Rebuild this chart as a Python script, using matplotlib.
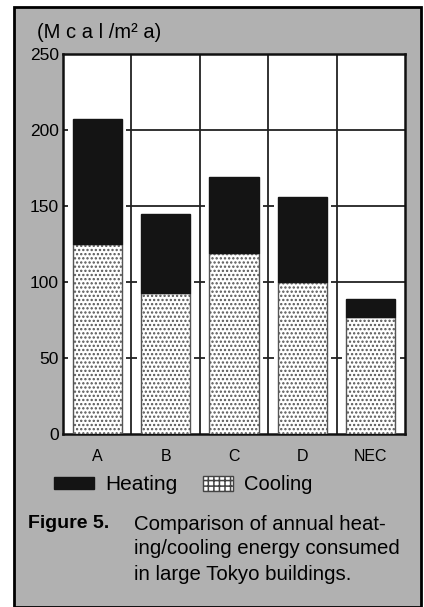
import matplotlib.pyplot as plt
from matplotlib.patches import Rectangle
import numpy as np

# Data (Mcal/m2 a)
buildings = ['A', 'B', 'C', 'D', 'NEC']
cooling = [125, 93, 119, 100, 77]
heating = [82, 52, 50, 56, 12]
yticks = [0, 50, 100, 150, 200, 250]

plt.rcParams['font.family'] = ['Liberation Sans Narrow', 'Liberation Sans', 'DejaVu Sans']
plt.rcParams['hatch.linewidth'] = 1.1

fig = plt.figure(figsize=(4.24, 6.07), dpi=100)
W, H = 424, 607

# grey page panel with black frame
panel = Rectangle((14 / W, 0), (421 - 14) / W, 1 - 7 / H, transform=fig.transFigure,
                  facecolor='#b1b1b1', edgecolor='black', linewidth=2, zorder=-5)
fig.patches.append(panel)

ax = fig.add_axes([63 / W, 1 - 434 / H, (405 - 63) / W, (434 - 54) / H])
ax.set_zorder(1)
ax.set_facecolor('white')
x = np.arange(len(buildings))

# grid: horizontal lines at ticks, vertical lines between buildings
for yv in yticks[1:-1]:
    ax.axhline(yv, color='#222222', lw=1.3, zorder=1)
for xv in x[:-1] + 0.5:
    ax.axvline(xv, color='#222222', lw=1.3, zorder=1)

w = 0.72
tot = np.array(cooling) + np.array(heating)
# white halo behind bars (gridlines stop short of the bars)
ax.bar(x, tot + 2, width=w + 0.12, color='white', zorder=2)
ax.bar(x, cooling, width=w, facecolor='white', edgecolor='#555555', hatch='....',
       linewidth=1.0, zorder=3)
ax.bar(x, heating, width=w, bottom=cooling, color='#141414', edgecolor='#141414',
       linewidth=1.0, zorder=3)

ax.set_xlim(-0.5, len(buildings) - 0.5)
ax.set_ylim(0, 250)
ax.set_yticks(yticks)
ax.set_yticklabels([str(v) for v in yticks], fontsize=12.5)
ax.set_xticks(x)
ax.set_xticklabels(buildings, fontsize=11.5)
ax.tick_params(axis='y', length=0, pad=3)
ax.tick_params(axis='x', length=0, pad=11)
for s in ax.spines.values():
    s.set_linewidth(1.8)
    s.set_color('#111111')

fig.text(37 / W, 1 - 32 / H, '(M c a l /m² a)', fontsize=14.5, va='center', ha='left')

# legend
fig.patches.append(Rectangle((54 / W, 1 - 489 / H), 40 / W, 12 / H, transform=fig.transFigure,
                             facecolor='#141414', edgecolor='#141414', zorder=3))
fig.text(105 / W, 1 - 484 / H, 'Heating', fontsize=15, va='center', ha='left')
fig.patches.append(Rectangle((203 / W, 1 - 491 / H), 30 / W, 15 / H, transform=fig.transFigure,
                             facecolor='white', edgecolor='#444444', hatch='+++',
                             linewidth=1.0, zorder=3))
fig.text(244 / W, 1 - 484 / H, 'Cooling', fontsize=14.5, va='center', ha='left')

# caption
fig.text(28 / W, 1 - 524 / H, 'Figure 5.', fontsize=14, fontweight='bold', va='center', ha='left')
caption = ['Comparison of annual heat-',
           'ing/cooling energy consumed',
           'in large Tokyo buildings.']
for i, line in enumerate(caption):
    fig.text(134 / W, 1 - (524 + 25 * i) / H, line, fontsize=14.7, va='center', ha='left')

fig.savefig('out.png', dpi=100)
